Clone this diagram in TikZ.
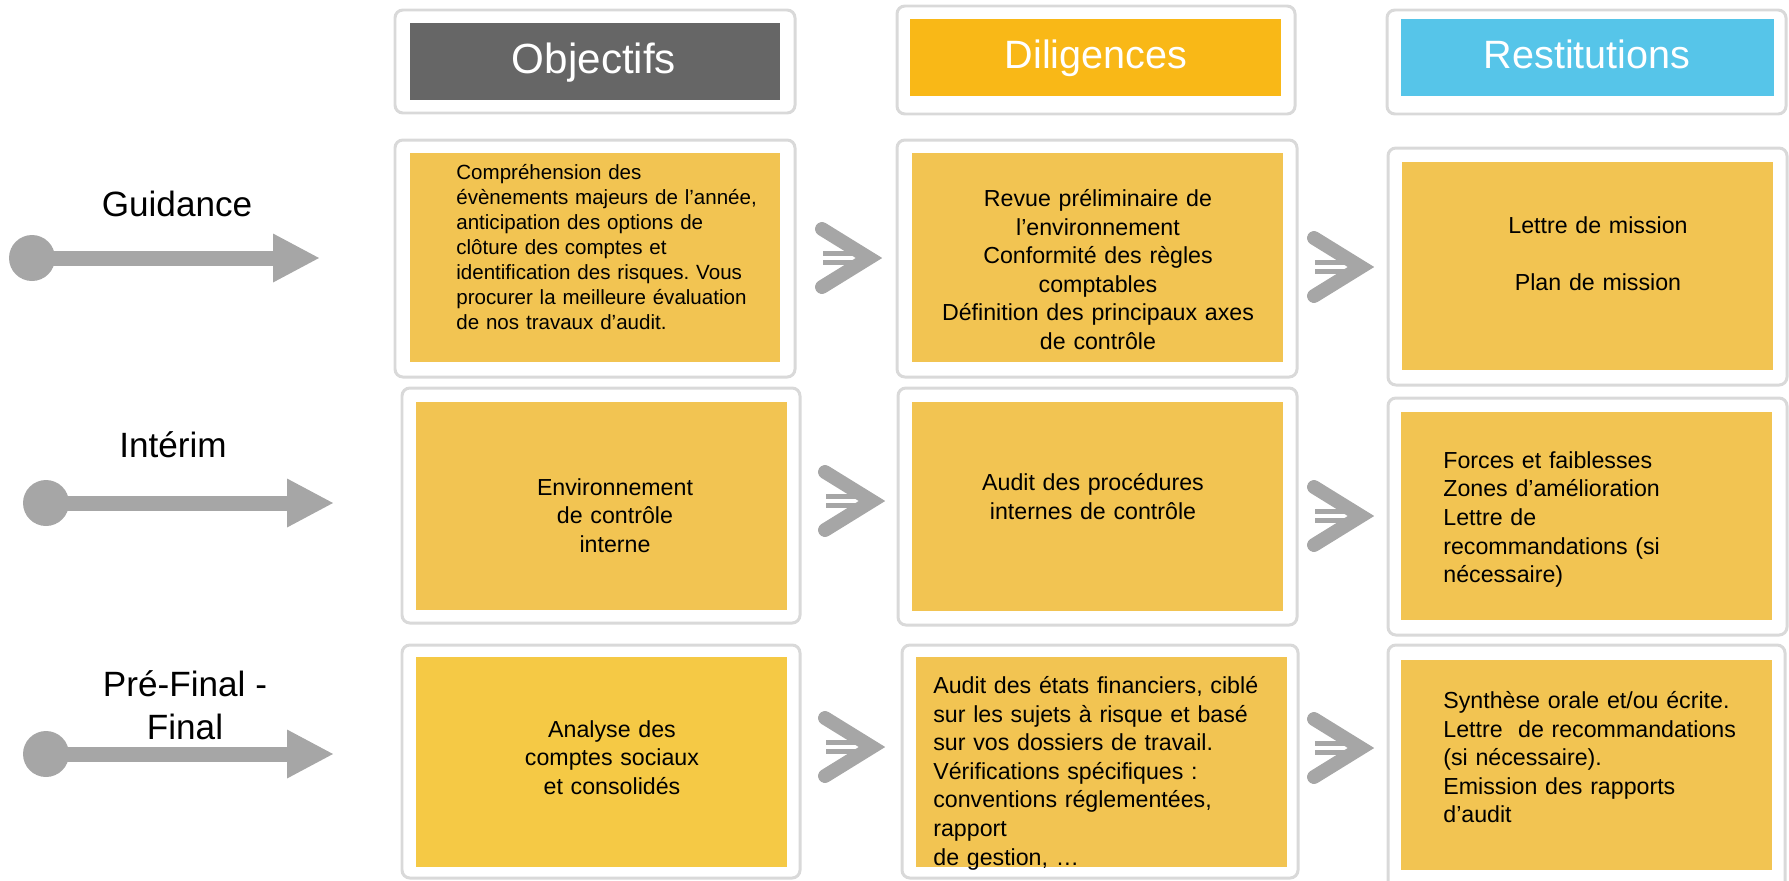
\documentclass[tikz,border=0pt]{standalone}
\usepackage{fontspec}
\setmainfont{Liberation Sans}
\usetikzlibrary{fit}
\frenchspacing

\definecolor{framegray}{HTML}{D9D9D9}
\definecolor{cardyellow}{HTML}{F2C452}
\definecolor{cardgold}{HTML}{F5C945}
\definecolor{headgray}{HTML}{666666}
\definecolor{headorange}{HTML}{F9B817}
\definecolor{headblue}{HTML}{56C5E9}
\definecolor{arrowgray}{HTML}{A6A6A6}

\tikzset{
  cellframe/.style={draw=framegray, line width=1.7pt, fill=white, rounded corners=4.5pt, inner sep=0pt},
  cellcard/.style={fill=cardyellow, inner sep=0pt},
  headtext/.style={text=white, font=\fontsize{22.5pt}{27pt}\selectfont},
  phasetext/.style={font=\fontsize{20pt}{24.9pt}\selectfont, align=center},
  celltext/.style={font=\fontsize{13.2pt}{16.3pt}\selectfont, inner sep=0pt, text width=7cm},
  celltextsmall/.style={font=\fontsize{11.7pt}{14.2pt}\selectfont, inner sep=0pt, text width=7cm, align=left},
  pics/chevron/.style={code={
    \draw[arrowgray, line width=7.9pt, line cap=round, line join=miter] (-61,-29) -- (-14,0) -- (-61,29);
    \draw[arrowgray, line width=2.8pt] (-60,-4.7) -- (-29,-4.7) (-60,4.7) -- (-29,4.7);
  }}
}

\begin{document}
\begin{tikzpicture}[x=0.02cm, y=-0.02cm]
  \useasboundingbox (0,0) rectangle (1789,880);

  % Column headers
  \node[cellframe, fit={(395,10) (795,113)}] (fobj) {};
  \node[cellcard, fill=headgray, fit={(410,23) (780,100)}] (hobj) {};
  \node[headtext, font=\fontsize{24pt}{28pt}\selectfont, anchor=base] (tobj) at (594,73) {Objectifs};

  \node[cellframe, fit={(897,6) (1295,114)}] (fdil) {};
  \node[cellcard, fill=headorange, fit={(910,19) (1281,96)}] (hdil) {};
  \node[headtext, anchor=base] (tdil) at (1096,68) {Diligences};

  \node[cellframe, fit={(1387,10) (1786,114)}] (fres) {};
  \node[cellcard, fill=headblue, fit={(1401,19) (1774,96)}] (hres) {};
  \node[headtext, anchor=base] (tres) at (1587,68) {Restitutions};

  % Phase labels and timeline arrows
  \node[phasetext, anchor=base] (guidance) at (177,216) {Guidance};
  \node[phasetext, anchor=base] (interim) at (173,457) {Intérim};
  \node[phasetext, anchor=north] (prefinal) at (185,664) {Pré-Final -\\Final};

  \foreach \x/\y in {32/258, 46/503, 46/754} {
    \fill[arrowgray] (\x,\y) circle (0.46cm);
    \fill[arrowgray] (\x,\y-7.5) rectangle (\x+243,\y+7.5);
    \fill[arrowgray] (\x+241,\y-24.5) -- (\x+287,\y) -- (\x+241,\y+24.5) -- cycle;
  }

  % Guidance row
  \node[cellframe, fit={(395,140) (795,377)}] (f11) {};
  \node[cellcard, fit={(410,153) (780,362)}] (c11) {};
  \node[celltextsmall, anchor=north west] (t11) at (456,164) {Compréhension des\\évènements majeurs de l’année,\\anticipation des options de\\clôture des comptes et\\identification des risques. Vous\\procurer la meilleure évaluation\\de nos travaux d’audit.};

  \node[cellframe, fit={(897,140) (1297,377)}] (f12) {};
  \node[cellcard, fit={(912,153) (1283,362)}] (c12) {};
  \node[celltext, align=center, anchor=north] (t12) at (1098,189) {Revue préliminaire de\\l’environnement\\Conformité des règles\\comptables\\Définition des principaux axes\\de contrôle};

  \node[cellframe, fit={(1388,148) (1787,385)}] (f13) {};
  \node[cellcard, fit={(1402,162) (1773,370)}] (c13) {};
  \node[celltext, align=center, anchor=north] (t13) at (1598,216) {Lettre de mission\\~\\Plan de mission};

  % Interim row
  \node[cellframe, fit={(402,388) (800,623)}] (f21) {};
  \node[cellcard, fit={(416,402) (787,610)}] (c21) {};
  \node[celltext, align=center, anchor=north] (t21) at (615,478) {Environnement\\de contrôle\\interne};

  \node[cellframe, fit={(898,388) (1297,625)}] (f22) {};
  \node[cellcard, fit={(912,402) (1283,611)}] (c22) {};
  \node[celltext, align=center, anchor=north] (t22) at (1093,473) {Audit des procédures\\internes de contrôle};

  \node[cellframe, fit={(1388,398) (1787,635)}] (f23) {};
  \node[cellcard, fit={(1401,412) (1772,620)}] (c23) {};
  \node[celltext, align=left, anchor=north west] (t23) at (1443,451) {Forces et faiblesses\\Zones d’amélioration\\Lettre de\\recommandations (si\\nécessaire)};

  % Pre-final / final row
  \node[cellframe, fit={(402,645) (800,878)}] (f31) {};
  \node[cellcard, fill=cardgold, fit={(416,657) (787,867)}] (c31) {};
  \node[celltext, align=center, anchor=north] (t31) at (612,720) {Analyse des\\comptes sociaux\\et consolidés};

  \node[cellframe, fit={(902,645) (1298,878)}] (f32) {};
  \node[cellcard, fit={(916,657) (1287,867)}] (c32) {};
  \node[celltext, align=left, anchor=north west] (t32) at (933,676) {Audit des états financiers, ciblé\\sur les sujets à risque et basé\\sur vos dossiers de travail.\\Vérifications spécifiques :\\conventions réglementées,\\rapport\\de gestion, …};

  \node[cellframe, fit={(1388,645) (1785,895)}] (f33) {};
  \node[cellcard, fit={(1401,660) (1772,870)}] (c33) {};
  \node[celltext, align=left, anchor=north west] (t33) at (1443,691) {Synthèse orale et/ou écrite.\\Lettre~ de recommandations\\(si nécessaire).\\Emission des rapports\\d’audit};

  % Chevrons between the columns
  \foreach \x/\y in {883/258, 1375/267, 886/501, 1375/516, 886/747, 1375/748}
    \pic at (\x,\y) {chevron};
\end{tikzpicture}
\end{document}
